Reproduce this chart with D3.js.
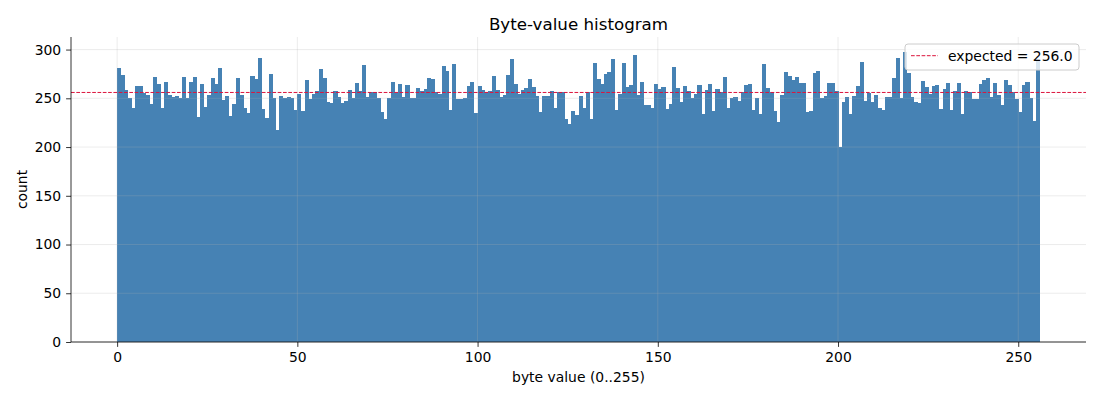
<!DOCTYPE html>
<html>
<head>
<meta charset="utf-8">
<script src="https://cdn.jsdelivr.net/npm/d3@7"></script>
<style>
  body { margin: 0; background: #fff; }
  text { font-family: "DejaVu Sans", sans-serif; }
</style>
</head>
<body>
<div id="chart"></div>
<script>
// byte values 0..255, one bin each
const byteValues = d3.range(256);

// counts per byte value
const counts = [
  281, 274, 259, 250, 240, 263, 263, 255, 253, 244, 272, 265, 240, 267, 253, 251,
  252, 250, 272, 250, 267, 272, 231, 265, 241, 253, 271, 265, 281, 248, 252, 232,
  244, 271, 253, 240, 235, 273, 270, 291, 239, 230, 275, 250, 218, 252, 250, 251,
  250, 238, 254, 237, 269, 249, 254, 258, 280, 271, 246, 245, 257, 251, 245, 247,
  259, 250, 266, 257, 284, 251, 256, 256, 250, 236, 229, 250, 267, 255, 265, 251,
  264, 250, 250, 261, 257, 260, 271, 270, 256, 254, 283, 278, 238, 285, 249, 249,
  250, 263, 267, 235, 263, 259, 256, 257, 273, 259, 251, 253, 274, 290, 265, 254,
  259, 261, 270, 262, 252, 236, 252, 252, 257, 240, 256, 256, 229, 224, 237, 233,
  252, 240, 256, 229, 286, 270, 265, 275, 277, 290, 238, 254, 286, 262, 264, 294,
  253, 267, 243, 243, 240, 265, 260, 262, 239, 244, 282, 261, 246, 263, 258, 250,
  254, 264, 234, 259, 265, 237, 260, 256, 272, 240, 250, 251, 247, 256, 264, 265,
  238, 250, 234, 285, 261, 256, 237, 226, 253, 277, 273, 269, 272, 266, 266, 236,
  237, 276, 278, 250, 252, 266, 266, 257, 200, 246, 251, 234, 252, 263, 287, 247,
  255, 246, 253, 240, 238, 251, 251, 271, 291, 250, 298, 276, 251, 246, 245, 268,
  262, 254, 263, 264, 239, 260, 266, 238, 257, 266, 234, 257, 256, 249, 249, 265,
  269, 271, 251, 266, 253, 243, 269, 264, 256, 249, 236, 264, 267, 250, 227, 288
];

const expected = 256.0;

const xTicks = [0, 50, 100, 150, 200, 250];
const yTicks = [0, 50, 100, 150, 200, 250, 300];

const W = 1100, H = 400;
const margin = {top: 37, right: 14, bottom: 58, left: 71};
const iw = W - margin.left - margin.right,
      ih = H - margin.top - margin.bottom;

const svg = d3.select("#chart")
    .append("svg")
    .attr("width", W)
    .attr("height", H);

const g = svg.append("g")
    .attr("transform", `translate(${margin.left},${margin.top})`);

// matplotlib style 5% margins
const xMin = 0, xMax = 256;
const xPad = (xMax - xMin) * 0.05;
const x = d3.scaleLinear()
    .domain([xMin - xPad, xMax + xPad])
    .range([0, iw]);

const y = d3.scaleLinear()
    .domain([0, d3.max(counts) * 1.05])
    .range([ih, 0]);

// bars
g.append("g")
    .attr("shape-rendering", "crispEdges")
    .selectAll("rect.bar")
    .data(byteValues)
    .join("rect")
    .attr("class", "bar")
    .attr("x", d => x(d))
    .attr("width", d => x(d + 1) - x(d) + 0.5)
    .attr("y", (d, i) => y(counts[i]))
    .attr("height", (d, i) => y(0) - y(counts[i]))
    .attr("fill", "steelblue");

// grid on top of the bars, faint
g.append("g")
    .selectAll("line")
    .data(xTicks)
    .join("line")
    .attr("x1", d => x(d)).attr("x2", d => x(d))
    .attr("y1", 0).attr("y2", ih)
    .attr("stroke", "#b0b0b0")
    .attr("stroke-opacity", 0.3)
    .attr("stroke-width", 0.8);

g.append("g")
    .selectAll("line")
    .data(yTicks)
    .join("line")
    .attr("x1", 0).attr("x2", iw)
    .attr("y1", d => y(d)).attr("y2", d => y(d))
    .attr("stroke", "#b0b0b0")
    .attr("stroke-opacity", 0.3)
    .attr("stroke-width", 0.8);

// expected line
g.append("line")
    .attr("x1", 0).attr("x2", iw)
    .attr("y1", y(expected)).attr("y2", y(expected))
    .attr("stroke", "crimson")
    .attr("stroke-width", 1)
    .attr("stroke-dasharray", "3.7,1.6");

// axes
const xAxis = g.append("g")
    .attr("transform", `translate(0,${ih})`)
    .call(d3.axisBottom(x).tickValues(xTicks).tickSize(4.9).tickPadding(4.9).tickFormat(d3.format("d")));

const yAxis = g.append("g")
    .call(d3.axisLeft(y).tickValues(yTicks).tickSize(4.9).tickPadding(4.9).tickFormat(d3.format("d")));

[xAxis, yAxis].forEach(a => {
    a.select(".domain").attr("stroke", "#000").attr("stroke-width", 0.8);
    a.selectAll(".tick line").attr("stroke", "#000").attr("stroke-width", 0.8);
    a.selectAll(".tick text")
        .attr("fill", "#000")
        .style("font-family", "DejaVu Sans")
        .style("font-size", "13.9px");
});
// only left and bottom spines, no end caps
xAxis.select(".domain").attr("d", `M0,0H${iw}`);
yAxis.select(".domain").attr("d", `M0,${ih}V0`);

// title and labels
svg.append("text")
    .attr("x", margin.left + iw / 2)
    .attr("y", 30)
    .attr("text-anchor", "middle")
    .style("font-size", "16.7px")
    .text("Byte-value histogram");

svg.append("text")
    .attr("x", margin.left + iw / 2)
    .attr("y", 382)
    .attr("text-anchor", "middle")
    .style("font-size", "13.9px")
    .text("byte value (0..255)");

svg.append("text")
    .attr("transform", `translate(27,${margin.top + ih / 2}) rotate(-90)`)
    .attr("text-anchor", "middle")
    .style("font-size", "13.9px")
    .text("count");

// legend, upper right
const legW = 174, legH = 26;
const leg = g.append("g")
    .attr("transform", `translate(${iw - legW - 7},${7})`);

leg.append("rect")
    .attr("width", legW)
    .attr("height", legH)
    .attr("rx", 3)
    .attr("fill", "#fff")
    .attr("fill-opacity", 0.8)
    .attr("stroke", "#cccccc")
    .attr("stroke-width", 1);

leg.append("line")
    .attr("x1", 6).attr("x2", 33)
    .attr("y1", 11.7).attr("y2", 11.7)
    .attr("stroke", "crimson")
    .attr("stroke-width", 1)
    .attr("stroke-dasharray", "3.7,1.6");

leg.append("text")
    .attr("x", 43)
    .attr("y", 17)
    .style("font-size", "13.9px")
    .text("expected = " + expected.toFixed(1));
</script>
</body>
</html>
